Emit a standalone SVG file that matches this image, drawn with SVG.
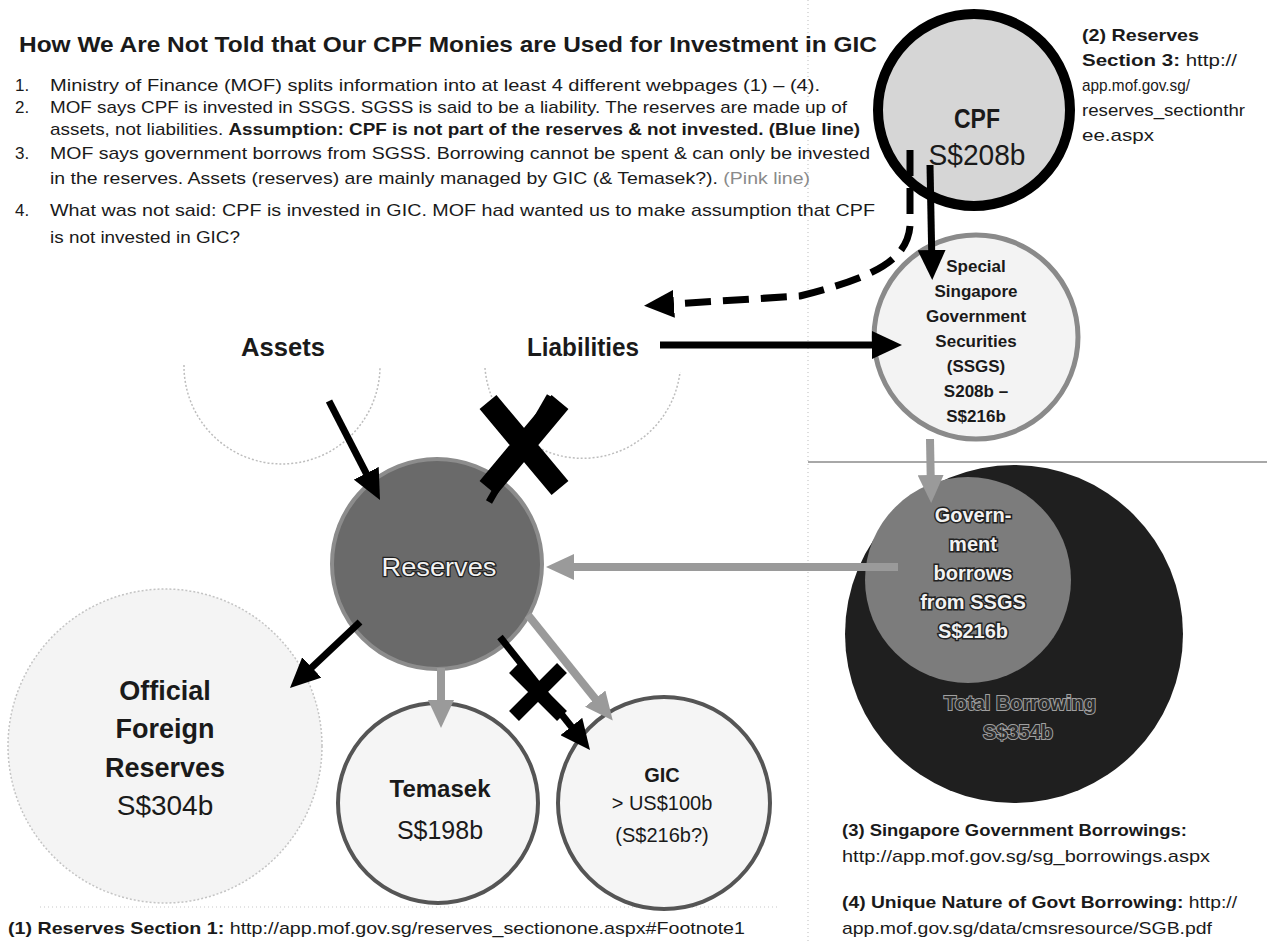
<svg xmlns="http://www.w3.org/2000/svg" width="1267" height="941" viewBox="0 0 1267 941">
<style>
text{font-family:"Liberation Sans",Arial,sans-serif;fill:#1a1a1a}
.t{font-size:17px}
.b{font-weight:bold}
.c{text-anchor:middle}
.guide{fill:none;stroke:#c8c8c8;stroke-width:1.2;stroke-dasharray:1 3}
.faint{fill:none;stroke:#bdbdbd;stroke-width:1.5;stroke-dasharray:2 2}
.blk{fill:none;stroke:#000;stroke-width:7}
.gry{fill:none;stroke:#9a9a9a;stroke-width:8}
.wt{fill:#f2f2f2;stroke:#222;stroke-width:3;paint-order:stroke;font-weight:bold}
.dk{fill:#2a2a2a;stroke:#a0a0a0;stroke-width:2;paint-order:stroke;font-weight:bold}
</style>
<defs>
<marker id="ab" markerUnits="userSpaceOnUse" markerWidth="32" markerHeight="28" refX="18" refY="14" orient="auto"><path d="M0,0 L30,14 L0,28 z" fill="#000"/></marker>
<marker id="ag" markerUnits="userSpaceOnUse" markerWidth="30" markerHeight="26" refX="18" refY="13" orient="auto"><path d="M0,0 L28,13 L0,26 z" fill="#9a9a9a"/></marker>
</defs>
<rect width="1267" height="941" fill="#fff"/>
<g id="guides">
<line class="guide" x1="808" y1="0" x2="808" y2="941"/>
<line x1="808" y1="462" x2="1267" y2="462" stroke="#a8a8a8" stroke-width="2"/>
<line class="guide" x1="40" y1="907" x2="780" y2="907"/>
</g>
<g id="title">
<text x="19" y="52" font-size="22" class="b" textLength="858" lengthAdjust="spacingAndGlyphs">How We Are Not Told that Our CPF Monies are Used for Investment in GIC</text>
</g>
<g id="list">
<text x="15" y="91" class="t">1.</text>
<text x="50" y="91" class="t" textLength="770" lengthAdjust="spacingAndGlyphs">Ministry of Finance (MOF) splits information into at least 4 different webpages (1) – (4).</text>
<text x="15" y="113" class="t">2.</text>
<text x="50" y="113" class="t" textLength="797" lengthAdjust="spacingAndGlyphs">MOF says CPF is invested in SSGS. SGSS is said to be a liability. The reserves are made up of</text>
<text x="50" y="135" class="t" textLength="810" lengthAdjust="spacingAndGlyphs">assets, not liabilities. <tspan class="b">Assumption: CPF is not part of the reserves &amp; not invested. (Blue line)</tspan></text>
<text x="15" y="159" class="t">3.</text>
<text x="50" y="159" class="t" textLength="820" lengthAdjust="spacingAndGlyphs">MOF says government borrows from SGSS. Borrowing cannot be spent &amp; can only be invested</text>
<text x="50" y="184" class="t" textLength="760" lengthAdjust="spacingAndGlyphs">in the reserves. Assets (reserves) are mainly managed by GIC (&amp; Temasek?). <tspan fill="#8a8a8a">(Pink line)</tspan></text>
<text x="15" y="216" class="t">4.</text>
<text x="50" y="216" class="t" textLength="825" lengthAdjust="spacingAndGlyphs">What was not said: CPF is invested in GIC. MOF had wanted us to make assumption that CPF</text>
<text x="50" y="243" class="t" textLength="190" lengthAdjust="spacingAndGlyphs">is not invested in GIC?</text>
</g>
<g id="refs">
<text x="1082" y="41" class="t b" textLength="117" lengthAdjust="spacingAndGlyphs">(2) Reserves</text>
<text x="1082" y="66" class="t" textLength="155" lengthAdjust="spacingAndGlyphs"><tspan class="b">Section 3:</tspan> http://</text>
<text x="1082" y="91" class="t" textLength="108" lengthAdjust="spacingAndGlyphs">app.mof.gov.sg/</text>
<text x="1082" y="116" class="t" textLength="163" lengthAdjust="spacingAndGlyphs">reserves_sectionthr</text>
<text x="1082" y="141" class="t" textLength="72" lengthAdjust="spacingAndGlyphs">ee.aspx</text>
<text x="842" y="836" class="t b" textLength="345" lengthAdjust="spacingAndGlyphs">(3) Singapore Government Borrowings:</text>
<text x="842" y="862" class="t" textLength="368" lengthAdjust="spacingAndGlyphs">http://app.mof.gov.sg/sg_borrowings.aspx</text>
<text x="842" y="908" class="t" textLength="395" lengthAdjust="spacingAndGlyphs"><tspan class="b">(4) Unique Nature of Govt Borrowing:</tspan> http://</text>
<text x="842" y="934" class="t" textLength="370" lengthAdjust="spacingAndGlyphs">app.mof.gov.sg/data/cmsresource/SGB.pdf</text>
<text x="8" y="934" class="t" textLength="737" lengthAdjust="spacingAndGlyphs"><tspan class="b">(1) Reserves Section 1:</tspan> http://app.mof.gov.sg/reserves_sectionone.aspx#Footnote1</text>
</g>
<g id="node-cpf">
<circle cx="974" cy="110" r="96" fill="#d6d6d6" stroke="#000" stroke-width="10"/>
<text x="977" y="128" class="c b" font-size="27" textLength="46" lengthAdjust="spacingAndGlyphs">CPF</text>
<text x="977" y="165" class="c" font-size="30" textLength="97" lengthAdjust="spacingAndGlyphs">S$208b</text>
</g>
<g id="node-ssgs">
<circle cx="976" cy="337" r="102" fill="#f3f3f3" stroke="#8a8a8a" stroke-width="5"/>
<g class="c b" font-size="17">
<text x="976" y="272">Special</text>
<text x="976" y="297">Singapore</text>
<text x="976" y="322">Government</text>
<text x="976" y="347">Securities</text>
<text x="976" y="372">(SSGS)</text>
<text x="976" y="397">S208b –</text>
<text x="976" y="422">S$216b</text>
</g>
</g>
<g id="node-assets">
<path class="faint" d="M184,365 A98,98 0 0 0 380,367"/>
<text x="283" y="356" class="c b" font-size="25" textLength="84" lengthAdjust="spacingAndGlyphs">Assets</text>
</g>
<g id="node-liabilities">
<path class="faint" d="M485,368 A98,98 0 0 0 680,372"/>
<text x="583" y="356" class="c b" font-size="25" textLength="112" lengthAdjust="spacingAndGlyphs">Liabilities</text>
</g>
<g id="node-borrowing">
<circle cx="1014" cy="634" r="169" fill="#1f1f1f"/>
<circle cx="968" cy="580" r="103" fill="#7c7c7c"/>
<g class="c" font-size="20">
<text x="973" y="522" class="wt">Govern-</text>
<text x="973" y="551" class="wt">ment</text>
<text x="973" y="580" class="wt">borrows</text>
<text x="973" y="609" class="wt">from SSGS</text>
<text x="973" y="638" class="wt">S$216b</text>
<text x="1020" y="710" class="dk">Total Borrowing</text>
<text x="1018" y="739" class="dk">S$354b</text>
</g>
</g>
<g id="node-reserves">
<circle cx="437" cy="564" r="105" fill="#6a6a6a" stroke="#8c8c8c" stroke-width="4"/>
<text x="439" y="576" class="c" font-size="26" stroke="#222" stroke-width="2.5" paint-order="stroke" textLength="115" lengthAdjust="spacingAndGlyphs" style="fill:#f2f2f2">Reserves</text>
</g>
<g id="node-official">
<circle cx="165" cy="746" r="157" fill="#f4f4f4" stroke="#c4c4c4" stroke-width="1.5" stroke-dasharray="2 2"/>
<g class="c" font-size="27">
<text x="165" y="700" class="b">Official</text>
<text x="165" y="738" class="b">Foreign</text>
<text x="165" y="777" class="b">Reserves</text>
<text x="165" y="815" font-size="28">S$304b</text>
</g>
</g>
<g id="node-temasek">
<circle cx="438" cy="803" r="100" fill="#f5f5f5" stroke="#555" stroke-width="4"/>
<text x="440" y="797" class="c b" font-size="24">Temasek</text>
<text x="440" y="839" class="c" font-size="25">S$198b</text>
</g>
<g id="node-gic">
<circle cx="664" cy="803" r="106" fill="#f5f5f5" stroke="#555" stroke-width="4"/>
<g class="c" font-size="20">
<text x="662" y="782" class="b">GIC</text>
<text x="662" y="810">&gt; US$100b</text>
<text x="662" y="842">(S$216b?)</text>
</g>
</g>
<g id="connectors">
<line class="blk" x1="930" y1="165" x2="932" y2="268" marker-end="url(#ab)"/>
<path class="blk" stroke-width="8" stroke-dasharray="26 12" d="M910,150 L910,226 C907,262 870,278 800,296 L656,305" marker-end="url(#ab)"/>
<line class="blk" stroke-width="8" x1="660" y1="345" x2="890" y2="345" marker-end="url(#ab)"/>
<line class="blk" x1="329" y1="401" x2="374.5" y2="489.3" marker-end="url(#ab)"/>
<line class="blk" x1="550" y1="396" x2="489" y2="502"/>
<line class="blk" x1="360" y1="622" x2="298.7" y2="679.8" marker-end="url(#ab)"/>
<line class="gry" x1="898" y1="567" x2="556" y2="567" marker-end="url(#ag)"/>
<line class="gry" stroke-width="7" x1="930" y1="439" x2="931" y2="493" marker-end="url(#ag)"/>
<line class="gry" stroke-width="7" x1="441" y1="668" x2="441" y2="718" marker-end="url(#ag)"/>
<line class="gry" stroke-width="7" x1="528" y1="615" x2="606.5" y2="712.7" marker-end="url(#ag)"/>
<line class="blk" x1="500" y1="637" x2="582.5" y2="740.6" marker-end="url(#ab)"/>
<path d="M488,402 L560,488 M560,402 L488,488" stroke="#000" stroke-width="22"/>
<path d="M514,668 L562,716 M562,668 L514,716" stroke="#000" stroke-width="14"/>
</g>
</svg>
